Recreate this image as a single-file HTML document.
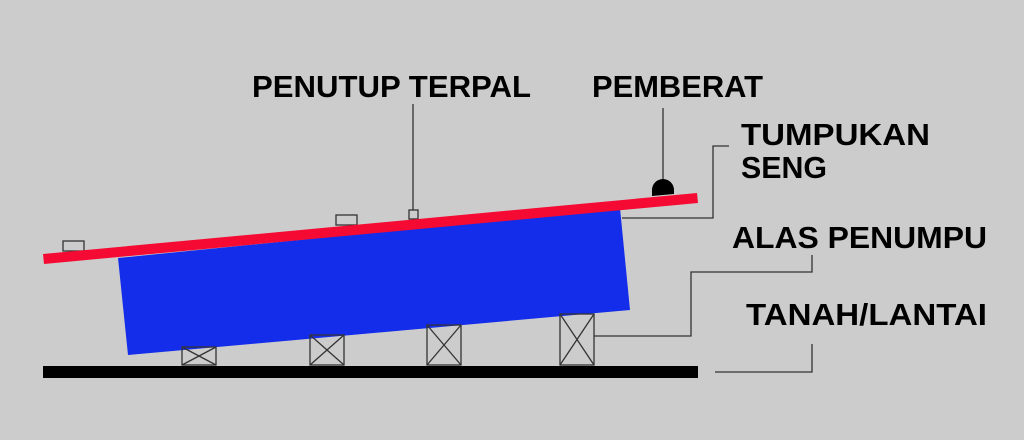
<!DOCTYPE html>
<html><head><meta charset="utf-8"><style>
html,body{margin:0;padding:0;background:#cccccc;}
svg{display:block;}
text{font-family:"Liberation Sans",sans-serif;font-weight:bold;font-size:31px;fill:#000;}
</style></head><body>
<svg width="1024" height="440" viewBox="0 0 1024 440" xmlns="http://www.w3.org/2000/svg">
<rect width="1024" height="440" fill="#cccccc"/>
<!-- blue body -->
<polygon points="118,258 620,208 630,310 128,355" fill="#132deb"/>
<!-- small boxes on top -->
<g fill="none" stroke="#333" stroke-width="1.3">
<rect x="63" y="241" width="21" height="10"/>
<rect x="336" y="215" width="21" height="10"/>
<rect x="409" y="210" width="9" height="9"/>
</g>
<!-- red bar -->
<polygon points="43,254 697,193 698,203 44,264" fill="#f50a33"/>
<!-- pemberat -->
<line x1="663" y1="108" x2="663" y2="182" stroke="#333" stroke-width="1.3"/>
<path d="M652,195 A11,13 0 0 1 674,193 Z" fill="#000"/>
<path d="M652,196 L652,190 A11,11 0 0 1 674,190 L674,194 Z" fill="#000"/>
<!-- supports -->
<g fill="none" stroke="#333" stroke-width="1.3">
<rect x="182" y="347" width="34" height="18"/><path d="M182,347L216,365M216,347L182,365"/>
<rect x="310" y="335" width="34" height="30"/><path d="M310,335L344,365M344,335L310,365"/>
<rect x="427" y="325" width="34" height="40"/><path d="M427,325L461,365M461,325L427,365"/>
<rect x="560" y="314" width="34" height="51"/><path d="M560,314L594,365M594,314L560,365"/>
</g>
<!-- ground -->
<rect x="43" y="366" width="655" height="12" fill="#000"/>
<!-- leader lines -->
<g fill="none" stroke="#333" stroke-width="1.3">
<line x1="413" y1="104" x2="413" y2="210"/>
<polyline points="622,218 713,218 713,146 729,146"/>
<polyline points="594,336 691,336 691,272 812,272 812,255"/>
<polyline points="715,372 812,372 812,344"/>
</g>
<!-- labels -->
<text x="252" y="97" textLength="279" lengthAdjust="spacingAndGlyphs">PENUTUP TERPAL</text>
<text x="592" y="97" textLength="171" lengthAdjust="spacingAndGlyphs">PEMBERAT</text>
<text x="741" y="145" textLength="189" lengthAdjust="spacingAndGlyphs">TUMPUKAN</text>
<text x="741" y="178" textLength="86" lengthAdjust="spacingAndGlyphs">SENG</text>
<text x="732" y="248" textLength="255" lengthAdjust="spacingAndGlyphs">ALAS PENUMPU</text>
<text x="746" y="325" textLength="241" lengthAdjust="spacingAndGlyphs">TANAH/LANTAI</text>
</svg>
</body></html>
